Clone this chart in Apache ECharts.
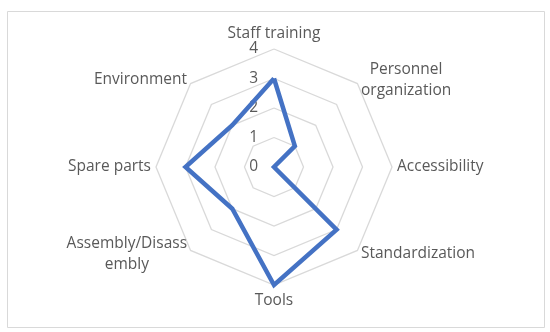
<!DOCTYPE html>
<html>
<head>
<meta charset="utf-8">
<script src="https://cdn.jsdelivr.net/npm/echarts@6/dist/echarts.min.js"></script>
<style>
html,body{margin:0;padding:0;background:#fff;}
#chart{width:550px;height:332px;}
</style>
</head>
<body>
<div id="chart"></div>
<script>
var categories = ['Staff training', 'Personnel\norganization', 'Accessibility', 'Standardization', 'Tools', 'Assembly/Disass\nembly', 'Spare parts', 'Environment'];
var values = [3, 1, 0, 3, 4, 2, 3, 2];
var axisMax = 4;
var tickInterval = 1;

// ECharts radar runs counter-clockwise; reorder so categories run clockwise like the reference
var order = [0].concat(categories.map(function (_, i) { return i; }).slice(1).reverse());
var cwCategories = order.map(function (i) { return categories[i]; });
var cwValues = order.map(function (i) { return values[i]; });

var FONT = '"Open Sans", sans-serif';
var chart = echarts.init(document.getElementById('chart'));
var option = {
  backgroundColor: '#ffffff',
  animation: false,
  graphic: [{
    type: 'rect', left: 5, top: 9,
    shape: { width: 537, height: 316 },
    style: { fill: 'none', stroke: '#d9d9d9', lineWidth: 1 }
  }],
  radar: {
    center: [274, 167],
    radius: 118,
    startAngle: 90,
    shape: 'polygon',
    splitNumber: axisMax / tickInterval,
    nameGap: 5,
    axisName: {
      color: '#595959',
      fontFamily: FONT,
      fontSize: 15.5,
      lineHeight: 21,
      formatter: function (name) {
        return name.split('\n').map(function (s) { return '{c|' + s + '}'; }).join('\n');
      },
      rich: { c: { align: 'center', color: '#595959', fontFamily: FONT, fontSize: 15.5, lineHeight: 21 } }
    },
    indicator: cwCategories.map(function (c) { return { name: c, min: 0, max: axisMax }; }),
    axisLine: { show: false },
    splitLine: { lineStyle: { color: '#d9d9d9', width: 1.3 } },
    splitArea: { show: false },
    axisTick: { show: false },
    axisLabel: { show: false }
  },
  polar: { center: [274, 167], radius: 118 },
  angleAxis: { show: false, startAngle: 90, min: 0, max: 360 },
  radiusAxis: {
    min: 0, max: axisMax, interval: tickInterval,
    axisLine: { show: false }, axisTick: { show: false }, splitLine: { show: false },
    axisLabel: { color: '#595959', fontFamily: FONT, fontSize: 15.5, margin: 16 }
  },
  series: [{
    type: 'radar',
    symbol: 'none',
    lineStyle: { color: '#4472C4', width: 4.5, join: 'miter' },
    itemStyle: { color: '#4472C4' },
    data: [{ value: cwValues }]
  }]
};
chart.setOption(option);
</script>
</body>
</html>
